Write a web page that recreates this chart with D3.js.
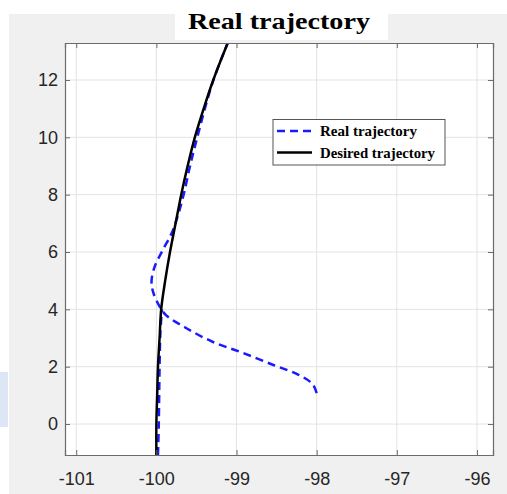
<!DOCTYPE html>
<html lang="en">
<head>
<meta charset="utf-8"/>
<title>Real trajectory</title>
<script src="https://d3js.org/d3.v7.min.js"></script>
<style>
  body { margin: 0; background: #fff; }
</style>
</head>
<body>
<script>
// data
var xTicks = [-101, -100, -99, -98, -97, -96];
var yTicks = [0, 2, 4, 6, 8, 10, 12];

// desired trajectory (black)
var desiredX = [-100.0, -100.0, -99.99, -99.98, -99.96, -99.94, -99.89, -99.83, -99.76, -99.69, -99.61, -99.52, -99.41, -99.29, -99.11];
var desiredY = [-1.08, 0, 1, 2, 3, 4, 5, 6, 7, 8, 9, 10, 11, 12, 13.29];

// real trajectory (blue dashed), null = break between the two pieces
var realX = [-99.98, -99.97, -99.96, -99.95, -99.93, null,
             -98.0, -98.03, -98.08, -98.25, -98.54, -98.92, -99.3, -99.63, -99.88, -99.96,
             -100.04, -100.06, -100.02, -99.92, -99.81, -99.74, -99.66, -99.58, -99.49, -99.3, -99.11];
var realY = [-1.08, 0, 2, 3.2, 4.0, null,
             1.08, 1.3, 1.47, 1.75, 2.06, 2.48, 2.87, 3.35, 3.8, 4.1,
             4.6, 5.0, 5.5, 6.07, 6.65, 7.2, 8.0, 9.0, 10.0, 11.9, 13.29];

var legendLabels = ["Real trajectory", "Desired trajectory"];

var W = 507, H = 494;
var pLeft = 65, pRight = 493, pTop = 43, pBottom = 455;

var svg = d3.select("body").append("svg")
    .attr("width", W)
    .attr("height", H);

// figure background
svg.append("rect").attr("width", W).attr("height", H).attr("fill", "#fff");
svg.append("rect").attr("x", 9).attr("y", 14).attr("width", W - 9).attr("height", H - 14).attr("fill", "#f0f0f0");
svg.append("rect").attr("x", 0).attr("y", 372).attr("width", 8).attr("height", 55).attr("fill", "#d3e0f1").attr("opacity", 0.8);

var x = d3.scaleLinear().domain([-101.14, -95.8]).range([pLeft, pRight]);
var y = d3.scaleLinear().domain([-1.08, 13.29]).range([pBottom, pTop]);

// plot area
svg.append("rect")
    .attr("x", pLeft).attr("y", pTop)
    .attr("width", pRight - pLeft).attr("height", pBottom - pTop)
    .attr("fill", "#fff");

// grid
svg.append("g").selectAll("line").data(xTicks).join("line")
    .attr("x1", d => x(d)).attr("x2", d => x(d))
    .attr("y1", pTop).attr("y2", pBottom)
    .attr("stroke", "#e3e3e3").attr("stroke-width", 1);
svg.append("g").selectAll("line").data(yTicks).join("line")
    .attr("y1", d => y(d)).attr("y2", d => y(d))
    .attr("x1", pLeft).attr("x2", pRight)
    .attr("stroke", "#e3e3e3").attr("stroke-width", 1);

// lines
var desired = desiredX.map((d, i) => [d, desiredY[i]]);
var real = realX.map((d, i) => [d, realY[i]]);

var line = d3.line()
    .defined(d => d[0] !== null)
    .x(d => x(d[0])).y(d => y(d[1]))
    .curve(d3.curveCatmullRom);

svg.append("clipPath").attr("id", "clip")
    .append("rect").attr("x", pLeft).attr("y", pTop)
    .attr("width", pRight - pLeft).attr("height", pBottom - pTop);

svg.append("path")
    .datum(real)
    .attr("clip-path", "url(#clip)")
    .attr("d", line)
    .attr("fill", "none")
    .attr("stroke", "#1a1aff")
    .attr("stroke-width", 2.5)
    .attr("stroke-dasharray", "8,5");

svg.append("path")
    .datum(desired)
    .attr("clip-path", "url(#clip)")
    .attr("d", line)
    .attr("fill", "none")
    .attr("stroke", "#000")
    .attr("stroke-width", 2.5);

// axes (MATLAB style box with inward ticks)
var axisColor = "#6b6b6b";
var xAxis = d3.axisBottom(x).tickValues(xTicks).tickSize(-5).tickPadding(17).tickFormat(d3.format("d"));
var yAxis = d3.axisLeft(y).tickValues(yTicks).tickSize(-5).tickPadding(7).tickFormat(d3.format("d"));

var gx = svg.append("g").attr("transform", "translate(0," + pBottom + ")").call(xAxis);
var gy = svg.append("g").attr("transform", "translate(" + pLeft + ",0)").call(yAxis);
var gxt = svg.append("g").attr("transform", "translate(0," + pTop + ")")
    .call(d3.axisTop(x).tickValues(xTicks).tickSize(-5).tickFormat(""));
var gyr = svg.append("g").attr("transform", "translate(" + pRight + ",0)")
    .call(d3.axisRight(y).tickValues(yTicks).tickSize(-5).tickFormat(""));

[gx, gy, gxt, gyr].forEach(function(g) {
    g.select(".domain").attr("stroke", axisColor).attr("stroke-width", 1.2);
    g.selectAll(".tick line").attr("stroke", axisColor);
    g.selectAll(".tick text")
        .attr("fill", "#262626")
        .attr("font-family", "Liberation Sans, Arial, sans-serif")
        .attr("font-size", 18);
});
gx.selectAll(".tick text").text(d => d < 0 ? "-" + Math.abs(d) : d);

// title
svg.append("rect").attr("x", 175).attr("y", 14).attr("width", 213).attr("height", 26).attr("fill", "#fff");
svg.append("text")
    .attr("x", 188).attr("y", 29)
    .attr("font-family", "Liberation Serif, Times New Roman, serif")
    .attr("font-weight", "bold")
    .attr("font-size", 24)
    .attr("textLength", 182)
    .attr("lengthAdjust", "spacingAndGlyphs")
    .attr("fill", "#000")
    .text("Real trajectory");

// legend
var lg = svg.append("g");
lg.append("rect")
    .attr("x", 273).attr("y", 119.5)
    .attr("width", 172).attr("height", 45.5)
    .attr("fill", "#fff")
    .attr("stroke", "#555").attr("stroke-width", 1);

var legendRows = [
    {label: legendLabels[0], color: "#1a1aff", dash: "8,5", y: 131, len: 97},
    {label: legendLabels[1], color: "#000", dash: null, y: 152.5, len: 115}
];
legendRows.forEach(function(r) {
    lg.append("line")
        .attr("x1", 277).attr("x2", 312)
        .attr("y1", r.y).attr("y2", r.y)
        .attr("stroke", r.color).attr("stroke-width", 2.5)
        .attr("stroke-dasharray", r.dash);
    lg.append("text")
        .attr("x", 320).attr("y", r.y + 5)
        .attr("font-family", "Liberation Serif, Times New Roman, serif")
        .attr("font-weight", "bold")
        .attr("font-size", 15.5)
        .attr("textLength", r.len)
        .attr("lengthAdjust", "spacingAndGlyphs")
        .attr("fill", "#000")
        .text(r.label);
});
</script>
</body>
</html>
